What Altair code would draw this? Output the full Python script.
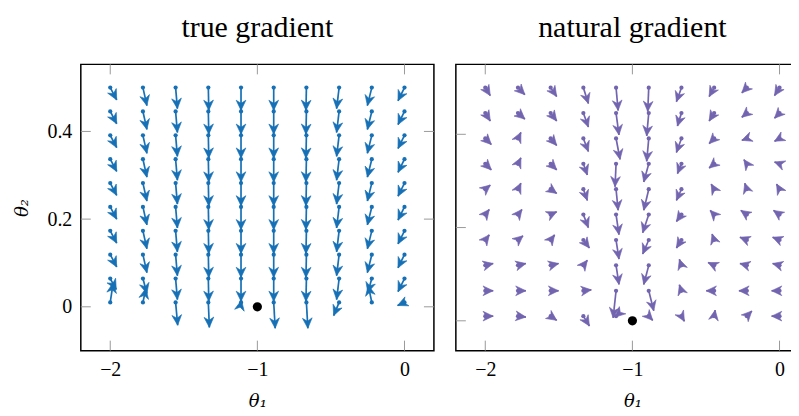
import math
import altair as alt
import pandas as pd

FONT = "Liberation Serif"
TFONT = "DejaVu Serif"
BLUE = "#1670b5"
PURPLE = "#7364b0"

# grid of arrow tails
TH1 = [-2.0, -1.7778, -1.5556, -1.3333, -1.1111, -0.8889, -0.6667, -0.4444, -0.2222, 0.0]
TH2 = [0.01, 0.0644, 0.1189, 0.1733, 0.2278, 0.2822, 0.3367, 0.3911, 0.4456, 0.5]

# true gradient: one list per theta1 column, rows from theta2 = 0.01 upward
TRUE_U = [
    [0.020, 0.041, 0.044, 0.044, 0.044, 0.044, 0.044, 0.044, 0.044, 0.044],
    [0.020, 0.027, 0.027, 0.027, 0.027, 0.027, 0.027, 0.027, 0.027, 0.027],
    [0.014, 0.012, 0.012, 0.012, 0.012, 0.012, 0.012, 0.012, 0.012, 0.012],
    [0.007, 0.003, 0.003, 0.003, 0.003, 0.003, 0.003, 0.003, 0.003, 0.003],
    [0.003, 0.000, 0.000, 0.000, 0.000, 0.000, 0.000, 0.000, 0.000, 0.000],
    [0.010, 0.000, 0.000, 0.000, 0.000, 0.000, 0.000, 0.000, 0.000, 0.000],
    [0.010, -0.003, -0.003, -0.003, -0.003, -0.003, -0.003, -0.003, -0.003, -0.003],
    [-0.037, -0.017, -0.017, -0.017, -0.017, -0.017, -0.017, -0.017, -0.017, -0.017],
    [-0.024, -0.027, -0.030, -0.030, -0.030, -0.030, -0.030, -0.030, -0.030, -0.030],
    [-0.047, -0.044, -0.044, -0.044, -0.044, -0.044, -0.044, -0.044, -0.044, -0.044],
]
TRUE_V = [
    [0.045, -0.025, -0.028, -0.028, -0.028, -0.028, -0.028, -0.028, -0.028, -0.028],
    [0.032, -0.034, -0.041, -0.041, -0.041, -0.041, -0.041, -0.041, -0.041, -0.041],
    [-0.052, -0.048, -0.048, -0.048, -0.048, -0.048, -0.048, -0.048, -0.048, -0.048],
    [-0.057, -0.052, -0.052, -0.052, -0.052, -0.052, -0.052, -0.052, -0.052, -0.052],
    [0.005, -0.052, -0.052, -0.052, -0.052, -0.052, -0.052, -0.052, -0.052, -0.052],
    [-0.059, -0.052, -0.052, -0.052, -0.052, -0.052, -0.052, -0.052, -0.052, -0.052],
    [-0.059, -0.052, -0.052, -0.052, -0.052, -0.052, -0.052, -0.052, -0.052, -0.052],
    [-0.030, -0.048, -0.048, -0.048, -0.048, -0.048, -0.048, -0.048, -0.048, -0.048],
    [0.039, -0.032, -0.041, -0.041, -0.041, -0.041, -0.041, -0.041, -0.041, -0.041],
    [-0.007, -0.030, -0.030, -0.030, -0.030, -0.030, -0.030, -0.030, -0.030, -0.030],
]

# natural gradient: one list per theta1 column, rows from theta2 = 0.01 upward
NAT_U = [
    [0.054, 0.054, 0.054, 0.027, 0.027, 0.034, 0.041, 0.041, 0.034, 0.034],
    [0.054, 0.054, 0.054, 0.034, 0.027, 0.020, 0.020, 0.020, 0.047, 0.047],
    [0.041, 0.054, 0.054, 0.027, 0.041, 0.041, 0.041, 0.041, 0.041, 0.041],
    [0.041, 0.054, 0.027, 0.041, 0.034, 0.027, 0.027, 0.034, 0.034, 0.034],
    [-0.007, -0.020, 0.020, 0.020, 0.020, 0.014, -0.007, 0.027, 0.020, 0.014],
    [0.027, 0.034, -0.034, -0.041, -0.041, -0.034, -0.034, -0.014, -0.014, -0.007],
    [0.020, -0.014, -0.014, -0.034, -0.034, -0.034, -0.027, -0.034, -0.027, -0.034],
    [0.007, -0.054, -0.041, -0.014, -0.027, -0.020, -0.034, -0.034, -0.034, -0.034],
    [0.034, -0.054, -0.047, -0.047, -0.041, -0.014, -0.020, -0.034, -0.034, -0.034],
    [-0.054, -0.054, -0.047, -0.047, -0.041, -0.020, -0.034, -0.034, -0.034, -0.034],
]
NAT_V = [
    [0.000, 0.000, 0.004, 0.011, 0.011, 0.009, -0.013, -0.013, -0.017, -0.017],
    [-0.002, 0.000, 0.004, 0.009, 0.011, 0.013, 0.013, 0.013, -0.013, -0.015],
    [-0.009, 0.000, 0.004, 0.011, 0.006, -0.009, -0.013, -0.015, -0.017, -0.019],
    [-0.021, 0.002, 0.011, -0.017, -0.028, -0.024, -0.024, -0.028, -0.030, -0.034],
    [-0.002, -0.058, -0.041, -0.041, -0.043, -0.045, -0.049, -0.045, -0.047, -0.049],
    [-0.009, -0.043, -0.041, -0.030, -0.039, -0.045, -0.039, -0.049, -0.049, -0.051],
    [-0.011, 0.013, 0.013, -0.017, -0.015, -0.024, -0.021, -0.030, -0.028, -0.030],
    [0.013, 0.000, 0.006, 0.013, 0.009, 0.011, -0.009, -0.011, -0.017, -0.019],
    [0.011, 0.000, 0.004, 0.006, 0.009, 0.013, 0.009, -0.004, -0.009, -0.011],
    [0.000, 0.000, 0.004, 0.006, 0.009, 0.011, 0.004, -0.006, -0.011, -0.017],
]

MIN_POINT = {"x": [-1.0], "y": [0.0]}
X_DOMAIN = [-2.2, 0.2]
Y_DOMAIN_TRUE = [-0.1, 0.553]
Y_DOMAIN_NAT = [-0.064, 0.55]
X_TICKS = [-2, -1, 0]
Y_TICKS = [0, 0.2, 0.4]

W, H = 354, 287
TICK_LEN = 10
ARROW = "M0,0L1,2.1L0,1.45L-1,2.1Z"


def frame(U, V, ydom):
    sx = W / (X_DOMAIN[1] - X_DOMAIN[0])
    sy = H / (ydom[1] - ydom[0])
    rows = []
    for i, x in enumerate(TH1):
        for j, y in enumerate(TH2):
            u, v = U[i][j], V[i][j]
            ang = math.degrees(math.atan2(u * sx, v * sy)) % 360
            rows.append({"x": x, "y": y, "xe": x + u, "ye": y + v, "ang": ang})
    return pd.DataFrame(rows)


def panel(U, V, ydom, color, title, show_y):
    df = frame(U, V, ydom)
    xs = alt.Scale(domain=X_DOMAIN, nice=False, zero=False)
    ys = alt.Scale(domain=ydom, nice=False, zero=False)
    xaxis = alt.Axis(values=X_TICKS, format="d", ticks=False, domain=False, grid=False,
                     labelPadding=9, labelFontSize=20, labelFont=FONT, labelColor="black",
                     title="θ₁", titleFont=TFONT, titleFontSize=18, titleFontWeight="normal",
                     titleFontStyle="italic", titleColor="black", titlePadding=13)
    if show_y:
        yaxis = alt.Axis(values=Y_TICKS, format=".1~f", ticks=False, domain=False, grid=False,
                         labelPadding=9, labelFontSize=20, labelFont=FONT, labelColor="black",
                         title="θ₂", titleFont=TFONT, titleFontSize=18, titleFontWeight="normal",
                         titleFontStyle="italic", titleColor="black", titlePadding=15)
    else:
        yaxis = None

    def X(f):
        return alt.X(f, type="quantitative", scale=xs, axis=xaxis)

    def Y(f):
        return alt.Y(f, type="quantitative", scale=ys, axis=yaxis)

    xt = alt.Chart(pd.DataFrame({"v": X_TICKS}))
    yt = alt.Chart(pd.DataFrame({"v": Y_TICKS}))
    tick_style = dict(color="#9a9a9a", strokeWidth=1)
    t1 = xt.mark_rule(**tick_style).encode(x=X("v"), y=alt.value(0), y2=alt.value(TICK_LEN))
    t2 = xt.mark_rule(**tick_style).encode(x=X("v"), y=alt.value(H - TICK_LEN), y2=alt.value(H))
    t3 = yt.mark_rule(**tick_style).encode(y=Y("v"), x=alt.value(0), x2=alt.value(TICK_LEN))
    t4 = yt.mark_rule(**tick_style).encode(y=Y("v"), x=alt.value(W - TICK_LEN), x2=alt.value(W))

    base = alt.Chart(df)
    shaft = base.mark_rule(color=color, strokeWidth=1.7).encode(
        x=X("x"), y=Y("y"), x2="xe:Q", y2="ye:Q")
    tail = base.mark_circle(color=color, size=18, opacity=1).encode(x=X("x"), y=Y("y"))
    head = base.mark_point(shape=ARROW, filled=True, color=color, size=95, opacity=1,
                           strokeWidth=0.6, stroke=color).encode(
        x=X("xe"), y=Y("ye"), angle=alt.Angle("ang:Q", scale=None))
    mind = alt.Chart(pd.DataFrame(MIN_POINT)).mark_circle(color="black", size=85, opacity=1).encode(
        x=X("x"), y=Y("y"))

    return alt.layer(t1, t2, t3, t4, shaft, tail, head, mind).properties(
        width=W, height=H,
        title=alt.TitleParams(title, font=FONT, fontSize=30, fontWeight="normal", color="black",
                              anchor="middle", frame="group", offset=21),
    )


left = panel(TRUE_U, TRUE_V, Y_DOMAIN_TRUE, BLUE, "true gradient", True)
right = panel(NAT_U, NAT_V, Y_DOMAIN_NAT, PURPLE, "natural gradient", False)

chart = alt.hconcat(left, right, spacing=18).configure_view(
    stroke="black", strokeWidth=1.5
).properties(padding={"left": 5, "top": 3, "right": -20, "bottom": 1})

chart.save("out.html", embed_options={"renderer": "svg", "actions": False})
